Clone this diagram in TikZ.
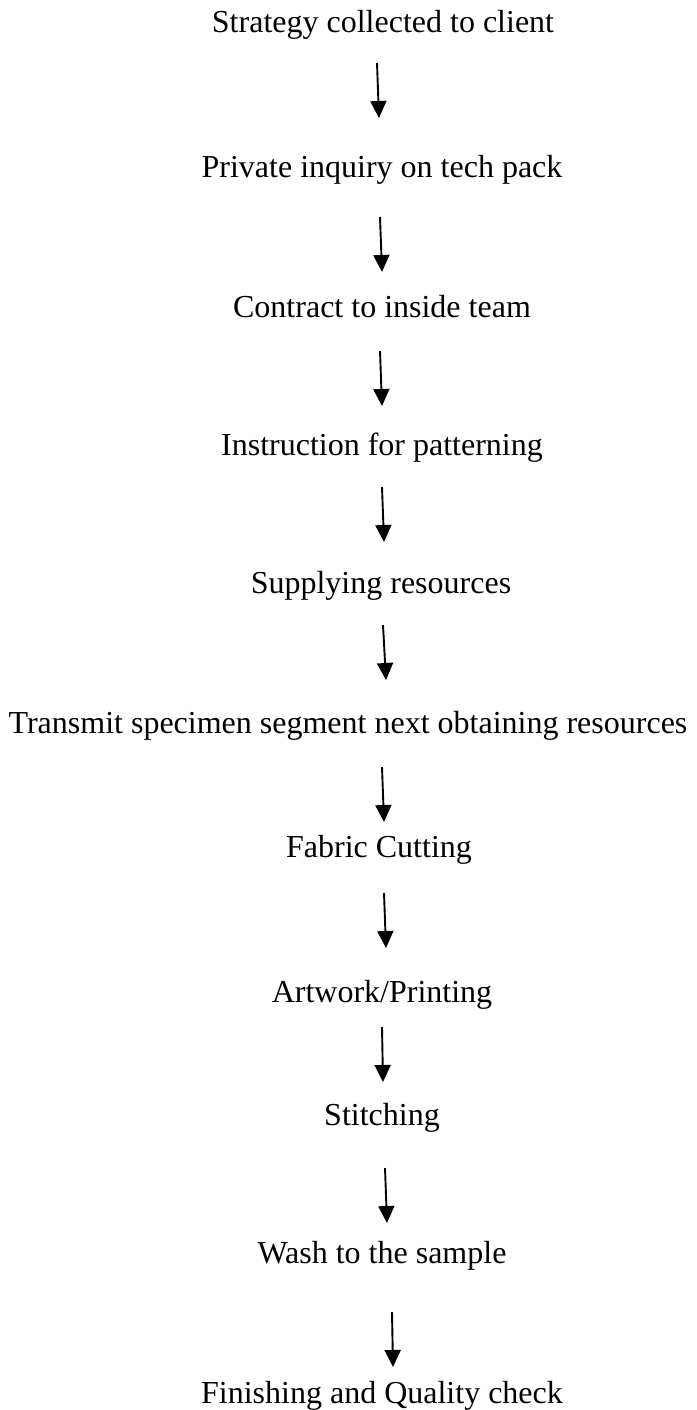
\documentclass[tikz,border=0pt]{standalone}
\usepackage{fontspec}
\setmainfont{Liberation Serif}
\usetikzlibrary{arrows.meta}
\begin{document}
\begin{tikzpicture}[x=1pt,y=-1pt,
  lbl/.style={inner sep=0pt,anchor=base,font=\fontsize{32}{38}\selectfont},
  arr/.style={line width=1.9pt,-{Triangle[width=16pt,length=17pt]}}]
\useasboundingbox (0,0) rectangle (696,1410);
\node[lbl] (l1) at (383,33) {Strategy collected to client};
\node[lbl] (l2) at (382,177) {Private inquiry on tech pack};
\node[lbl] (l3) at (382,317) {Contract to inside team};
\node[lbl] (l4) at (382,455) {Instruction for patterning};
\node[lbl] (l5) at (381,593) {Supplying resources};
\node[lbl] (l6) at (348,733) {Transmit specimen segment next obtaining resources};
\node[lbl] (l7) at (379,857) {Fabric Cutting};
\node[lbl] (l8) at (382,1002) {Artwork/Printing};
\node[lbl] (l9) at (382,1125) {Stitching};
\node[lbl] (l10) at (382,1263) {Wash to the sample};
\node[lbl] (l11) at (382,1403) {Finishing and Quality check};
\coordinate (a1s) at (377,63);   \coordinate (a1e) at (379,118);
\coordinate (a2s) at (380,217);  \coordinate (a2e) at (382,272);
\coordinate (a3s) at (380,351);  \coordinate (a3e) at (382,406);
\coordinate (a4s) at (382,487);  \coordinate (a4e) at (384,542);
\coordinate (a5s) at (383,625);  \coordinate (a5e) at (386,680);
\coordinate (a6s) at (382,767);  \coordinate (a6e) at (384,822);
\coordinate (a7s) at (384,893);  \coordinate (a7e) at (386,948);
\coordinate (a8s) at (382,1027); \coordinate (a8e) at (383,1082);
\coordinate (a9s) at (385,1168); \coordinate (a9e) at (387,1223);
\coordinate (a10s) at (392,1312); \coordinate (a10e) at (393,1367);
\foreach \i in {1,...,10} {\draw[arr] (a\i s) -- (a\i e);}
\end{tikzpicture}
\end{document}
